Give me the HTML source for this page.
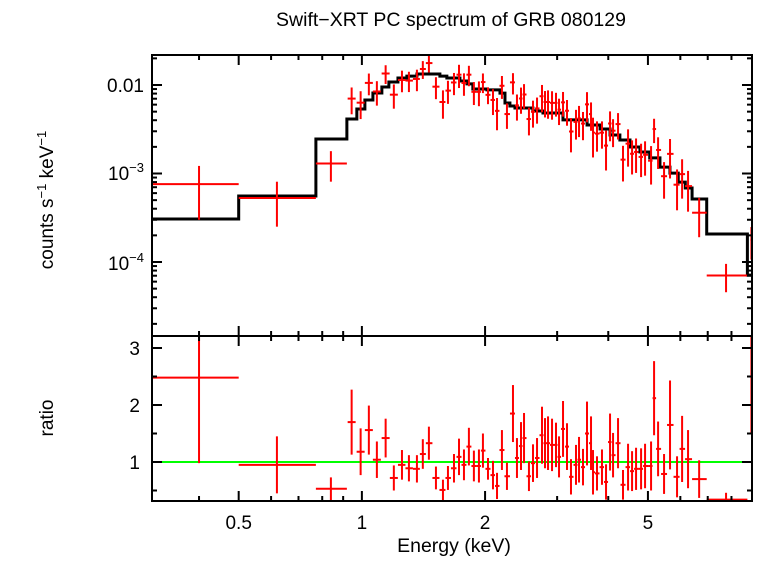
<!DOCTYPE html>
<html><head><meta charset="utf-8"><style>
body{margin:0;background:#fff}
svg text{font-family:"Liberation Sans",sans-serif;fill:#000}
</style></head><body>
<svg id="chart" width="758" height="556" viewBox="0 0 758 556" xmlns="http://www.w3.org/2000/svg">
<defs>
<clipPath id="ct"><rect x="152" y="55" width="601" height="281"/></clipPath>
<clipPath id="cb"><rect x="152" y="336" width="601" height="165"/></clipPath>
</defs>
<text x="451" y="26" font-size="19.5" text-anchor="middle">Swift−XRT PC spectrum of GRB 080129</text>
<text transform="translate(53,200) rotate(-90)" font-size="19" text-anchor="middle">counts s<tspan font-size="13" dy="-7">−1</tspan><tspan dy="7"> keV</tspan><tspan font-size="13" dy="-7">−1</tspan></text>
<text transform="translate(53,418) rotate(-90)" font-size="19" text-anchor="middle">ratio</text>
<text x="454" y="552" font-size="19.5" text-anchor="middle">Energy (keV)</text>
<g id="gTop"></g>
<g id="gBot"></g>
<g id="gAxes"></g>
</svg>
<script>
// model step function (edges in keV, values counts/s/keV)
const modelEdges=[0.307,0.5,0.772,0.919,0.972,1.017,1.064,1.119,1.164,1.225,1.288,1.363,1.551,1.613,1.736,1.806,1.867,2.021,2.175,2.237,2.300,2.366,2.618,2.770,3.10,3.55,3.82,4.04,4.27,4.52,4.78,5.05,5.35,5.66,5.93,6.17,6.41,6.96,8.75,8.98];
const modelVals=[3.06e-4,5.57e-4,2.45e-3,4.13e-3,5.35e-3,6.77e-3,8.12e-3,9.5e-3,1.08e-2,1.20e-2,1.26e-2,1.33e-2,1.26e-2,1.20e-2,1.11e-2,1.03e-2,9.0e-3,8.8e-3,8.1e-3,6.26e-3,5.79e-3,5.5e-3,5.08e-3,4.83e-3,4.03e-3,3.53e-3,3.18e-3,2.72e-3,2.39e-3,1.99e-3,1.75e-3,1.50e-3,1.18e-3,1.01e-3,8.0e-4,6.86e-4,5.15e-4,2.07e-4,7.1e-5];
// data bins
const energies=[0.4,0.62,0.84,0.944,0.993,1.040,1.088,1.143,1.197,1.253,1.303,1.363,1.409,1.458,1.517,1.578,1.623,1.679,1.727,1.776,1.826,1.878,1.932,1.976,2.033,2.091,2.139,2.199,2.262,2.340,2.393,2.448,2.490,2.560,2.619,2.679,2.755,2.802,2.850,2.915,2.981,3.032,3.101,3.171,3.243,3.336,3.393,3.470,3.549,3.630,3.671,3.754,3.861,3.950,4.040,4.109,4.226,4.346,4.471,4.573,4.677,4.811,4.920,5.089,5.176,5.294,5.475,5.662,5.890,6.060,6.266,6.67,7.76,8.95];
const ratios=[2.48,0.95,0.53,1.70,1.18,1.56,1.04,1.42,0.72,0.95,0.89,0.88,1.14,1.33,0.72,0.51,0.72,0.89,1.09,0.95,1.27,0.93,0.93,1.20,0.88,0.77,0.58,1.21,0.75,1.85,1.07,1.28,1.42,0.75,0.98,1.07,1.47,1.33,1.33,1.30,1.30,1.09,1.58,1.27,0.74,0.95,1.04,0.91,1.50,1.33,0.82,0.80,0.91,0.65,1.35,1.12,1.33,0.60,0.91,0.84,0.88,0.88,0.93,0.93,2.12,1.23,0.79,1.65,0.74,1.23,1.05,0.70,0.34,2.5];
const ratioErr=[1.5,0.5,0.2,0.57,0.41,0.43,0.32,0.34,0.22,0.26,0.23,0.24,0.26,0.29,0.20,0.18,0.21,0.25,0.32,0.27,0.33,0.27,0.29,0.30,0.19,0.25,0.23,0.35,0.24,0.50,0.35,0.42,0.44,0.26,0.33,0.35,0.50,0.44,0.47,0.46,0.39,0.36,0.49,0.41,0.31,0.35,0.40,0.32,0.56,0.47,0.39,0.30,0.31,0.31,0.50,0.39,0.44,0.26,0.41,0.35,0.37,0.36,0.39,0.43,0.65,0.48,0.35,0.78,0.36,0.58,0.51,0.33,0.12,1.0];
const wideBins={0:[0.307,0.5],1:[0.5,0.772],2:[0.772,0.919],71:[6.41,6.96],72:[6.96,8.75],73:[8.9,9.0]};
const xTickLabels=["0.5","1","2","5"];
const xTickVals=[0.5,1,2,5];

const L=152,R=752,T=55,M=336,B=501;
const lx0=Math.log10(0.307),lx1=Math.log10(8.98);
const X=e=>L+(Math.log10(e)-lx0)/(lx1-lx0)*(R-L);
const YT=v=>85-88.5*Math.log10(v/0.01);
const YB=r=>462-57*(r-1);
const NS="http://www.w3.org/2000/svg";
function mk(tag,attrs,parent){const el=document.createElementNS(NS,tag);for(const k in attrs)el.setAttribute(k,attrs[k]);parent.appendChild(el);return el;}
function modelAt(e){for(let i=0;i<modelVals.length;i++){if(e<modelEdges[i+1])return modelVals[i];}return modelVals[modelVals.length-1];}
const gT=document.getElementById('gTop'),gB=document.getElementById('gBot'),gA=document.getElementById('gAxes');
const cT=mk('g',{'clip-path':'url(#ct)'},gT),cB=mk('g',{'clip-path':'url(#cb)'},gB);

let d='';
for(let i=0;i<modelVals.length;i++){const x0=X(modelEdges[i]),x1=X(modelEdges[i+1]),y=YT(modelVals[i]);d+=(i?'L':'M')+x0+' '+y+'L'+x1+' '+y;}
const mp=mk('path',{d:d,fill:'none',stroke:'#000','stroke-width':3},cT);



const gl=mk('line',{x1:L,x2:R,y1:YB(1),y2:YB(1),stroke:'#00ff00','stroke-width':2},cB);



for(let i=0;i<energies.length;i++){
  const e=energies[i];
  let lo,hi;
  if(wideBins[i]){lo=wideBins[i][0];hi=wideBins[i][1];}
  else{lo=Math.sqrt(energies[i-1]*e);hi=Math.sqrt(energies[i+1]*e);}
  const xl=wideBins[i]?X(lo):Math.max(X(lo),X(e)-4),xr=wideBins[i]?X(hi):Math.min(X(hi),X(e)+4);
  const m=modelAt(e),v=ratios[i]*m,er=ratioErr[i]*m;
  const g1=mk('g',{stroke:'#ff0000','stroke-width':2},cT);
  
  
  mk('line',{x1:xl,x2:xr,y1:YT(v),y2:YT(v)},g1);
  mk('line',{x1:X(e),x2:X(e),y1:YT(v+er),y2:(v-er>0?YT(v-er):400)},g1);
  const g2=mk('g',{stroke:'#ff0000','stroke-width':2},cB);
  
  
  mk('line',{x1:xl,x2:xr,y1:YB(ratios[i]),y2:YB(ratios[i])},g2);
  mk('line',{x1:X(e),x2:X(e),y1:YB(ratios[i]+ratioErr[i]),y2:YB(ratios[i]-ratioErr[i])},g2);
}

mk('rect',{x:L,y:T,width:R-L,height:B-T,fill:'none',stroke:'#000','stroke-width':2},gA);
mk('line',{x1:L,x2:R,y1:M,y2:M,stroke:'#000','stroke-width':2},gA);
const minorX=[0.4,0.6,0.7,0.8,0.9,3,4,6,7,8];
function xt(e,len){[[T,1],[M,-1],[M,1],[B,-1]].forEach(([y,s])=>mk('line',{x1:X(e),x2:X(e),y1:y,y2:y+s*len,stroke:'#000','stroke-width':2},gA));}
xTickVals.forEach((e,i)=>{xt(e,10);const t=mk('text',{x:X(e),y:529,'font-size':19,'text-anchor':'middle'},gA);t.textContent=xTickLabels[i];});
minorX.forEach(e=>xt(e,5));
function yt(y,len){mk('line',{x1:L,x2:L+len,y1:y,y2:y,stroke:'#000','stroke-width':2},gA);mk('line',{x1:R,x2:R-len,y1:y,y2:y,stroke:'#000','stroke-width':2},gA);}
[1e-4,1e-3,1e-2].forEach(v=>yt(YT(v),10));
[1e-5,1e-4,1e-3,1e-2].forEach(dec=>{for(let k=2;k<=9;k++){const y=YT(dec*k);if(y>T&&y<M)yt(y,5);}});
const t1=mk('text',{x:144,y:92,'font-size':19,'text-anchor':'end'},gA);t1.textContent='0.01';
const t2=mk('text',{x:144,y:180,'font-size':19,'text-anchor':'end'},gA);t2.innerHTML='10<tspan font-size="13" dy="-8">−3</tspan>';
const t3=mk('text',{x:144,y:270,'font-size':19,'text-anchor':'end'},gA);t3.innerHTML='10<tspan font-size="13" dy="-8">−4</tspan>';
[1,2,3].forEach(r=>{yt(YB(r),10);const t=mk('text',{x:140,y:YB(r)+7,'font-size':19,'text-anchor':'end'},gA);t.textContent=String(r);});
[0.5,1.5,2.5].forEach(r=>yt(YB(r),5));
</script>
</body></html>
